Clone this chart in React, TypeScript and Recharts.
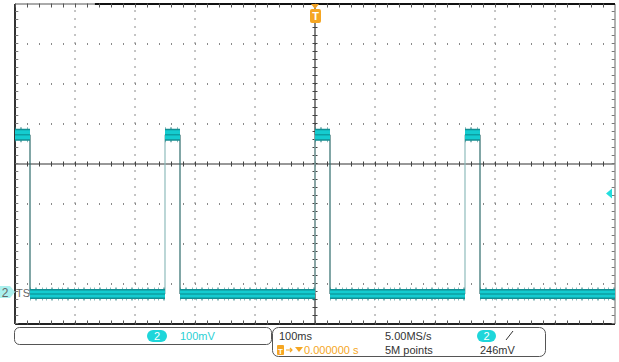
import React from 'react';
import { LineChart, Line, XAxis, YAxis, ReferenceLine, ReferenceDot } from 'recharts';

// Oscilloscope capture: 100 ms/div (10 div), 100 mV/div (8 div), channel 2
const timeDomain: [number, number] = [-500, 500];
const voltDomain: [number, number] = [-80, 720];
const gridTimes = [-400, -300, -200, -100, 100, 200, 300, 400];
const gridVolts = [620, 520, 420, 220, 120, 20];
const centerTime = 0;
const centerVolt = 320;

// waveform (ms, mV)
const lowLevel = -5;
const highLevel = 393;
const risingEdges = [-250, 0, 250];
const fallingEdges = [-475, -225, 25, 275];
const highSegments: [number, number][] = [[-500, -475], [-250, -225], [0, 25], [250, 275]];
const lowSegments: [number, number][] = [[-475, -250], [-225, 0], [25, 250], [275, 500]];
const triggerLevel = 246;

// readouts
const channelLabel = '2';
const voltsPerDiv = '100mV';
const timePerDiv = '100ms';
const sampleRate = '5.00MS/s';
const recordLength = '5M points';
const triggerPos = '0.000000 s';
const triggerLevelText = '246mV';

type Row = { t: number; v: number | null };

const segRows = (segs: [number, number][], level: number): Row[] => {
  const rows: Row[] = [];
  segs.forEach(([a, b]) => {
    rows.push({ t: a, v: level }, { t: b, v: level }, { t: b, v: null });
  });
  return rows;
};
const edgeRows = (edges: number[]): Row[] => {
  const rows: Row[] = [];
  edges.forEach((e) => {
    rows.push({ t: e, v: lowLevel }, { t: e, v: highLevel }, { t: e, v: null });
  });
  return rows;
};

const highData = segRows(highSegments, highLevel);
const lowData = segRows(lowSegments, lowLevel);
const riseData = edgeRows(risingEdges);
const fallData = edgeRows(fallingEdges);

const FONT = '"Liberation Sans", Arial, sans-serif';

const GroundMarker = (p: any) => {
  const { cx, cy } = p;
  return (
    <g>
      <path d={`M${cx - 15},${cy - 6} L${cx - 5},${cy - 6} L${cx},${cy} L${cx - 5},${cy + 6} L${cx - 15},${cy + 6} Z`} fill="#aaf0ee" />
      <text x={cx - 10} y={cy + 4.5} textAnchor="middle" fontFamily={FONT} fontSize={12} fill="#666">{channelLabel}</text>
      <text x={cx + 1} y={cy + 4.5} fontFamily={FONT} fontSize={11} fill="#666">TS</text>
    </g>
  );
};

const TrigLevelMarker = (p: any) => {
  const { cx, cy } = p;
  return <path d={`M${cx - 9},${cy} L${cx - 3},${cy - 5} L${cx - 3},${cy + 5} Z`} fill="#22dede" />;
};

const TrigMarker = (p: any) => {
  const { cx, cy } = p;
  return (
    <g>
      <path d={`M${cx - 4},${cy} L${cx + 4},${cy} L${cx},${cy + 5} Z`} fill="#f0a020" />
      <rect x={cx - 5} y={cy + 5} width={11} height={14} rx={2} fill="#f5a623" />
      <text x={cx + 0.5} y={cy + 16} textAnchor="middle" fontFamily={FONT} fontSize={11} fontWeight="bold" fill="#fff">T</text>
    </g>
  );
};

export default function App() {
  return (
    <div style={{ position: 'absolute', left: 0, top: 0, width: 619, height: 362, background: '#fff' }}>
      <LineChart width={619} height={362} margin={{ top: 4, right: 4, bottom: 38, left: 15 }}>
        <XAxis dataKey="t" type="number" domain={timeDomain} hide allowDataOverflow />
        <YAxis type="number" domain={voltDomain} hide allowDataOverflow />

        {gridTimes.map((t) => (
          <ReferenceLine key={'gx' + t} x={t} stroke="#8a8a8a" strokeWidth={1} strokeDasharray="2 6" />
        ))}
        {gridVolts.map((v) => (
          <ReferenceLine key={'gy' + v} y={v} stroke="#8a8a8a" strokeWidth={2} strokeDasharray="1 11" />
        ))}

        {/* center crosshair with ticks */}
        <ReferenceLine x={centerTime} stroke="#333" strokeWidth={1.2} />
        <ReferenceLine x={centerTime} stroke="#444" strokeWidth={5} strokeDasharray="1 7" />
        <ReferenceLine y={centerVolt} stroke="#333" strokeWidth={1.2} />
        <ReferenceLine y={centerVolt} stroke="#444" strokeWidth={5} strokeDasharray="1 11" />

        {/* frame */}
        <ReferenceLine x={timeDomain[0]} stroke="#333" strokeWidth={2} />
        <ReferenceLine x={timeDomain[1]} stroke="#999" strokeWidth={1.5} />
        <ReferenceLine y={voltDomain[0]} stroke="#222" strokeWidth={2} />
        <ReferenceLine segment={[{ x: -500, y: 720 }, { x: -367, y: 720 }]} stroke="#aaa" strokeWidth={2} />
        <ReferenceLine segment={[{ x: -367, y: 720 }, { x: 500, y: 720 }]} stroke="#111" strokeWidth={2} />
        <ReferenceLine y={716} stroke="#555" strokeWidth={4} strokeDasharray="1 11" />
        <ReferenceLine y={-76} stroke="#555" strokeWidth={4} strokeDasharray="1 11" />
        <ReferenceLine x={-497} stroke="#777" strokeWidth={3} strokeDasharray="1 7" />
        <ReferenceLine x={497} stroke="#777" strokeWidth={3} strokeDasharray="1 7" />

        {/* waveform */}
        <Line data={riseData} dataKey="v" stroke="#8fbcbc" strokeWidth={1.2} dot={false} isAnimationActive={false} connectNulls={false} />
        <Line data={fallData} dataKey="v" stroke="#2e6c6c" strokeWidth={1.2} dot={false} isAnimationActive={false} connectNulls={false} />
        <Line data={lowData} dataKey="v" stroke="#2d7f82" strokeOpacity={0.55} strokeWidth={13} strokeDasharray="1 4 2 5 1 3" dot={false} isAnimationActive={false} connectNulls={false} />
        <Line data={highData} dataKey="v" stroke="#2d7f82" strokeOpacity={0.55} strokeWidth={15} strokeDasharray="1 4 2 5 1 3" dot={false} isAnimationActive={false} connectNulls={false} />
        <Line data={lowData} dataKey="v" stroke="#138f93" strokeWidth={10} dot={false} isAnimationActive={false} connectNulls={false} />
        <Line data={highData} dataKey="v" stroke="#138f93" strokeWidth={12} dot={false} isAnimationActive={false} connectNulls={false} />
        <Line data={lowData} dataKey="v" stroke="#14ccd0" strokeWidth={7} dot={false} isAnimationActive={false} connectNulls={false} />
        <Line data={highData} dataKey="v" stroke="#14ccd0" strokeWidth={9} dot={false} isAnimationActive={false} connectNulls={false} />
        <Line data={lowData} dataKey="v" stroke="#0c9fa3" strokeWidth={1.5} dot={false} isAnimationActive={false} connectNulls={false} />
        <Line data={highData} dataKey="v" stroke="#0c9fa3" strokeWidth={1.5} dot={false} isAnimationActive={false} connectNulls={false} />

        {/* markers */}
        <ReferenceDot x={timeDomain[0]} y={0} shape={GroundMarker} />
        <ReferenceDot x={timeDomain[1]} y={triggerLevel} shape={TrigLevelMarker} />
        <ReferenceDot x={centerTime} y={voltDomain[1]} shape={TrigMarker} />
      </LineChart>

      <svg width={619} height={362} style={{ position: 'absolute', left: 0, top: 0, pointerEvents: 'none' }}>
        <rect x={14.5} y={327.5} width={257} height={17} rx={5} fill="none" stroke="#555" strokeWidth={1} />
        <rect x={147} y={330} width={20} height={12} rx={6} fill="#1ed6da" />
        <text x={157} y={340} textAnchor="middle" fontFamily={FONT} fontSize={11} fill="#fff">{channelLabel}</text>
        <text x={180} y={340} fontFamily={FONT} fontSize={11} fill="#2ad0d4">{voltsPerDiv}</text>

        <rect x={272.5} y={327.5} width={273} height={29} rx={6} fill="none" stroke="#555" strokeWidth={1} />
        <text x={279} y={340} fontFamily={FONT} fontSize={11} fill="#333">{timePerDiv}</text>
        <text x={385} y={340} fontFamily={FONT} fontSize={11} fill="#333">{sampleRate}</text>
        <rect x={477} y={330} width={19} height={12} rx={6} fill="#1ed6da" />
        <text x={486.5} y={340} textAnchor="middle" fontFamily={FONT} fontSize={11} fill="#fff">{channelLabel}</text>
        <path d="M506,340 L513,331" fill="none" stroke="#333" strokeWidth={1} />

        <rect x={277} y={345} width={7} height={10} rx={1} fill="#f5a623" />
        <text x={280.5} y={353.5} textAnchor="middle" fontFamily={FONT} fontSize={8} fontWeight="bold" fill="#fff">T</text>
        <path d="M286,350 L292,350 M290,348 L292,350 L290,352" fill="none" stroke="#f5a623" strokeWidth={1.2} />
        <path d="M295,347 L303,347 L299,352 Z" fill="#f5a623" />
        <text x={304} y={354} fontFamily={FONT} fontSize={11} fill="#f5a623">{triggerPos}</text>
        <text x={385} y={354} fontFamily={FONT} fontSize={11} fill="#333">{recordLength}</text>
        <text x={480} y={354} fontFamily={FONT} fontSize={11} fill="#333">{triggerLevelText}</text>
      </svg>
    </div>
  );
}
